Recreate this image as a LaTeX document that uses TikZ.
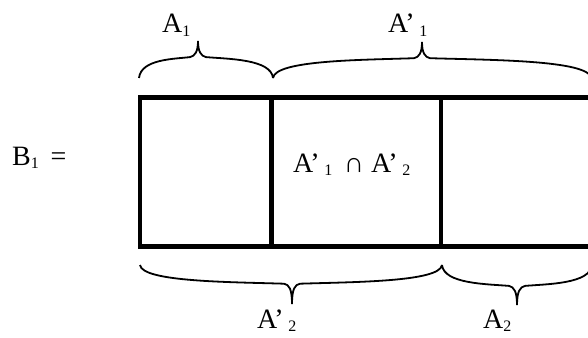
\documentclass[tikz,border=0pt]{standalone}
\usepackage{fontspec}
\setmainfont{Liberation Serif}
\newcommand\sbs[1]{\raisebox{-0.3ex}{\fontsize{16}{16}\selectfont #1}}
% x1, x2, xtip, yend, yarm, ytip
\newcommand\hbrace[6]{%
 \draw[bracestyle] (#1,#4) .. controls ({#1+2},#5) and ({#3-0.4*(#3-#1)},#5) .. ({#3-8},{#5-0.1*(#4-#5)})
   .. controls ({#3-3},{#5-0.15*(#4-#5)}) and (#3,{#5-0.4*(#4-#5)}) .. (#3,#6)
   .. controls (#3,{#5-0.4*(#4-#5)}) and ({#3+3},{#5-0.15*(#4-#5)}) .. ({#3+8},{#5-0.1*(#4-#5)})
   .. controls ({#3+0.4*(#2-#3)},#5) and ({#2-2},#5) .. (#2,#4);}
\tikzset{
  boxline/.style={line width=4.8pt, line join=miter, line cap=rect},
  bracestyle/.style={line width=1.8pt, line join=miter},
  lbl/.style={inner sep=0pt, anchor=base west, font=\fontsize{28}{28}\selectfont}
}
\begin{document}
\begin{tikzpicture}[x=1pt,y=-1pt]
\useasboundingbox (0,0) rectangle (588,337);
\clip (0,0) rectangle (588,337);
% box
\draw[boxline] (595,97.5) -- (140,97.5) -- (140,246.5) -- (595,246.5);
\draw[boxline] (271.5,97.5) -- (271.5,246.5);
\draw[boxline] (441,97.5) -- (441,246.5);
% braces
\hbrace{139}{273}{198}{78}{59}{41}
\hbrace{273}{591}{422}{78}{60}{42}
\hbrace{140}{442}{292}{265}{282}{304}
\hbrace{442}{592}{517}{265}{284}{305}
% labels
\node[lbl] (b1) at (12,165) {B\sbs{1}\, =};
\node[lbl] (a1) at (162,33) {A\sbs{1}};
\node[lbl] (a1p) at (388,33) {A’\,\sbs{1}};
\node[lbl] (cap) at (293,172) {A’\,\sbs{1}\, ∩ A’\,\sbs{2}};
\node[lbl] (a2p) at (257,328) {A’\,\sbs{2}};
\node[lbl] (a2) at (483,328) {A\sbs{2}};
\end{tikzpicture}
\end{document}
